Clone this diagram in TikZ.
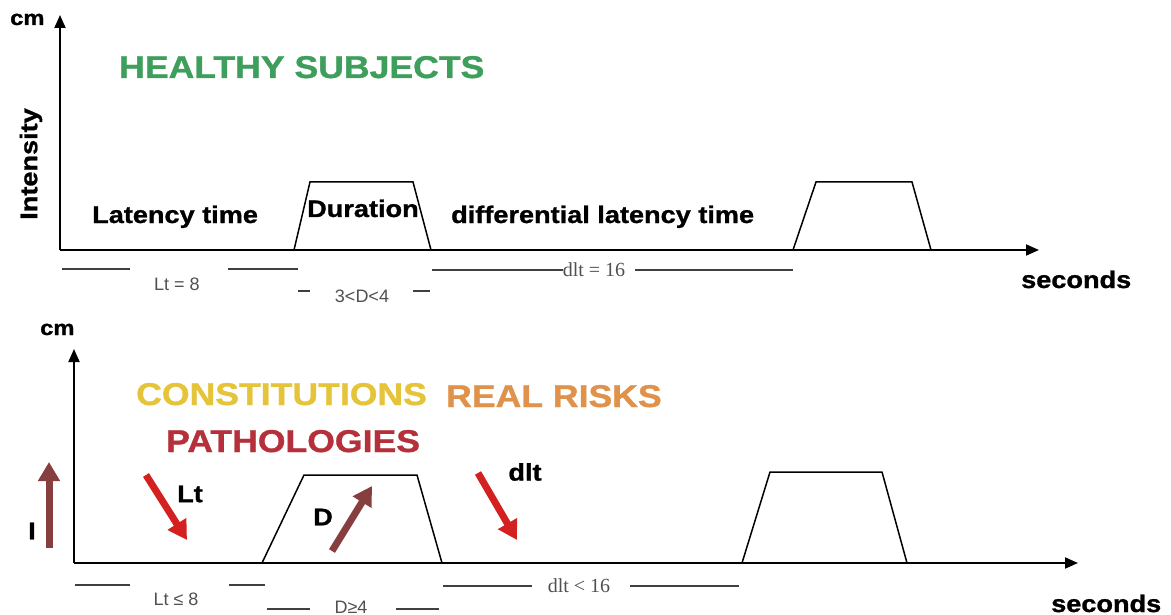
\documentclass[tikz,border=0pt]{standalone}
\usepackage{fontspec}
\usepackage{graphicx}
\setmainfont{Liberation Sans}[BoldFeatures={FakeBold=1.0}]
\newfontfamily\serifnum{Liberation Serif}
\usetikzlibrary{arrows.meta}
\newcommand\wx[1]{\scalebox{1.13}[1]{#1}}
\definecolor{hgreen}{RGB}{62,158,92}
\definecolor{cyellow}{RGB}{230,196,58}
\definecolor{rorange}{RGB}{224,146,74}
\definecolor{pred}{RGB}{181,48,58}
\definecolor{fred}{RGB}{212,32,32}
\definecolor{fbrown}{RGB}{135,62,62}
\definecolor{numgray}{RGB}{80,80,80}
\begin{document}
\begin{tikzpicture}[x=1pt,y=-1pt,
  axis/.style={line width=1.8pt,-{Triangle[length=13pt,width=11pt]}},
  pulse/.style={line width=1.5pt,line join=miter},
  brk/.style={line width=1.3pt,draw=black!75},
  fat/.style={line width=7pt,-{Triangle[length=19pt,width=21pt]}},
  title/.style={font=\bfseries\fontsize{31.5}{32}\selectfont,inner sep=0pt,anchor=base west},
  lab/.style={font=\bfseries\fontsize{24}{24}\selectfont,inner sep=0pt,anchor=base west},
  small/.style={font=\bfseries\fontsize{21}{21}\selectfont,inner sep=0pt},
  num/.style={font=\fontsize{18}{18}\selectfont,text=numgray,inner sep=0pt},
  snum/.style={font=\serifnum\fontsize{20}{20}\selectfont,text=numgray,inner sep=0pt}]
\useasboundingbox[fill=white] (0,0) rectangle (1171,615);

% ---------- top chart ----------
\coordinate (o1) at (60,250);
\coordinate (y1) at (60,15);
\coordinate (x1) at (1039,250);
\draw[axis] (o1) -- (y1);
\draw[axis] (o1) -- (x1);
\node[small,anchor=base west] (cm1) at (10,25) {\wx{cm}};
\node[lab,anchor=center,rotate=90] (int) at (31,164) {\wx{Intensity}};
\node[title,text=hgreen] (hs) at (119,78) {\wx{HEALTHY SUBJECTS}};

\coordinate (t1a) at (294,250); \coordinate (t1b) at (310,182);
\coordinate (t1c) at (413,182); \coordinate (t1d) at (431,250);
\draw[pulse] (t1a) -- (t1b) -- (t1c) -- (t1d);
\coordinate (t2a) at (793,250); \coordinate (t2b) at (816,182);
\coordinate (t2c) at (912,182); \coordinate (t2d) at (931,250);
\draw[pulse] (t2a) -- (t2b) -- (t2c) -- (t2d);

\node[lab] (lat) at (92,223) {\wx{Latency time}};
\node[lab] (dur) at (307,217) {\wx{Duration}};
\node[lab] (dif) at (451,223) {\wx{differential latency time}};
\node[lab] (sec1) at (1021,288) {\wx{seconds}};

\coordinate (l1a) at (62,269); \coordinate (l1b) at (130,269);
\coordinate (l1c) at (228,269); \coordinate (l1d) at (298,269);
\draw[brk] (l1a) -- (l1b); \draw[brk] (l1c) -- (l1d);
\node[num] (lt8) at (177,284) {Lt = 8};
\coordinate (d1a) at (298,291); \coordinate (d1b) at (310,291);
\coordinate (d1c) at (413,291); \coordinate (d1d) at (430,291);
\draw[brk] (d1a) -- (d1b); \draw[brk] (d1c) -- (d1d);
\node[num] (d34) at (362,296) {3<D<4};
\node[snum] (dlt16) at (594,270) {dlt = 16};
\coordinate (g1a) at (432,270); \coordinate (g1d) at (793,270);
\draw[brk] (g1a) -- (dlt16.west);
\draw[brk] ([xshift=10pt]dlt16.east) -- (g1d);

% ---------- bottom chart ----------
\coordinate (o2) at (74,563);
\coordinate (y2) at (74,349);
\coordinate (x2) at (1078,563);
\draw[axis] (o2) -- (y2);
\draw[axis] (o2) -- (x2);
\node[small,anchor=base west] (cm2) at (40,335) {\wx{cm}};

\node[title,text=cyellow] (con) at (136,405) {\wx{CONSTITUTIONS}};
\node[title,text=rorange] (rr) at (446,407) {\wx{REAL RISKS}};
\node[title,text=pred] (pat) at (166,452) {\wx{PATHOLOGIES}};

\coordinate (t3a) at (262,563); \coordinate (t3b) at (304,475);
\coordinate (t3c) at (417,475); \coordinate (t3d) at (442,563);
\draw[pulse] (t3a) -- (t3b) -- (t3c) -- (t3d);
\coordinate (t4a) at (742,563); \coordinate (t4b) at (770,472);
\coordinate (t4c) at (882,472); \coordinate (t4d) at (907,563);
\draw[pulse] (t4a) -- (t4b) -- (t4c) -- (t4d);

\coordinate (ia) at (49,548); \coordinate (ib) at (49,462);
\draw[fat,draw=fbrown,fill=fbrown] (ia) -- (ib);
\node[lab,anchor=center] (ilab) at (32,531) {\wx{I}};
\coordinate (lta) at (146,475); \coordinate (ltb) at (187,540);
\draw[fat,draw=fred,fill=fred] (lta) -- (ltb);
\node[lab,anchor=center] (ltlab) at (190,494) {\wx{Lt}};
\coordinate (da) at (332,551); \coordinate (db) at (372,486);
\draw[fat,draw=fbrown,fill=fbrown] (da) -- (db);
\node[lab,anchor=center] (dlab) at (323,517) {\wx{D}};
\coordinate (dla) at (478,473); \coordinate (dlb) at (517,540);
\draw[fat,draw=fred,fill=fred] (dla) -- (dlb);
\node[lab,anchor=center] (dltlab) at (525,472) {\wx{dlt}};

\node[lab] (sec2) at (1051,612) {\wx{seconds}};

\coordinate (l2a) at (75,585); \coordinate (l2b) at (130,585);
\coordinate (l2c) at (229,585); \coordinate (l2d) at (265,585);
\draw[brk] (l2a) -- (l2b); \draw[brk] (l2c) -- (l2d);
\node[num] (lt8b) at (176,599) {Lt ≤ 8};
\coordinate (d2a) at (267,609); \coordinate (d2b) at (310,609);
\coordinate (d2c) at (396,609); \coordinate (d2d) at (439,609);
\draw[brk] (d2a) -- (d2b); \draw[brk] (d2c) -- (d2d);
\node[num] (d4) at (351,607) {D≥4};
\node[snum] (dlt16b) at (579,586) {dlt < 16};
\coordinate (g2a) at (443,586); \coordinate (g2d) at (739,586);
\draw[brk] (g2a) -- ([xshift=-16pt]dlt16b.west);
\draw[brk] ([xshift=20pt]dlt16b.east) -- (g2d);
\end{tikzpicture}
\end{document}
